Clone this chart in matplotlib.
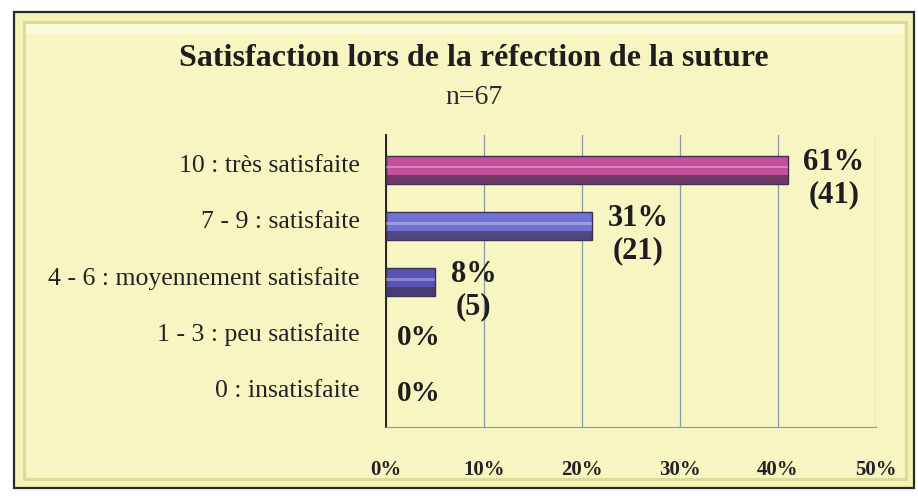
import matplotlib
matplotlib.use("Agg")
import matplotlib.pyplot as plt
from matplotlib.patches import Rectangle

categories = ["10 : très satisfaite", "7 - 9 : satisfaite", "4 - 6 : moyennement satisfaite",
              "1 - 3 : peu satisfaite", "0 : insatisfaite"]
counts = [41, 21, 5, 0, 0]
percents = [61, 31, 8, 0, 0]
xticks = [0, 10, 20, 30, 40, 50]
xtick_labels = ["0%", "10%", "20%", "30%", "40%", "50%"]
bar_colors = ["#c4509c", "#7272d4", "#5a52b4", "#5a52b4", "#5a52b4"]

plt.rcParams['font.family'] = ['Liberation Serif', 'DejaVu Serif']

W, H = 918, 504
fig = plt.figure(figsize=(W/100, H/100), dpi=100)
fig.patch.set_facecolor("white")

def fx(px):
    return px / W

def fy(py):
    return 1 - py / H

# outer frame
frame = Rectangle((fx(14), fy(488)), fx(914) - fx(14), fy(12) - fy(488),
                  transform=fig.transFigure, facecolor="#f5f2b8", edgecolor="#2a2a2a",
                  linewidth=1.6, zorder=-3)
fig.patches.append(frame)
bevel = Rectangle((fx(24), fy(479)), fx(906) - fx(24), fy(22) - fy(479),
                  transform=fig.transFigure, facecolor="#f7f5c2", edgecolor="#dcdc98",
                  linewidth=2.2, zorder=-2)
fig.patches.append(bevel)
highlight = Rectangle((fx(26), fy(34)), fx(904) - fx(26), fy(24) - fy(34),
                      transform=fig.transFigure, facecolor="#faf9dc", edgecolor="none",
                      zorder=-1)
fig.patches.append(highlight)

ax = fig.add_axes([fx(386), fy(427), fx(876) - fx(386), fy(135) - fy(427)])
ax.set_zorder(2)
ax.set_facecolor("none")

n = len(categories)
ypos = list(range(n - 1, -1, -1))
bar_h = 0.5
shift = 0.12
for y, c, col in zip(ypos, counts, bar_colors):
    if c > 0:
        yc = y - shift
        ax.barh(yc, c, height=bar_h, color=col, edgecolor="#3a3050", linewidth=1.0, zorder=3)
        # darker lower face for a 3D look
        ax.barh(yc - bar_h*0.34, c, height=bar_h*0.32, color="#3a2c48", alpha=0.6,
                linewidth=0, zorder=4)
        # light stripe
        ax.barh(yc + bar_h*0.1, c, height=bar_h*0.1, color="white", alpha=0.3,
                linewidth=0, zorder=4)

for y, c, p in zip(ypos, counts, percents):
    if c > 0:
        ax.text(c + 1.6, y - 0.27, f"{p}%\n({c})", ha="left", va="center",
                multialignment="center", fontsize=22, fontweight="bold",
                color="#1e1e1e", linespacing=1.15, zorder=5)
    else:
        ax.text(c + 1.1, y - 0.1, f"{p}%", ha="left", va="center",
                fontsize=21, fontweight="bold", color="#1e1e1e", zorder=5)

ax.set_xlim(0, 50)
ax.set_ylim(-0.69, n - 0.5)
ax.set_xticks(xticks)
ax.set_xticklabels(xtick_labels, fontsize=15, fontweight="bold", color="#222222")
ax.set_yticks(ypos)
ax.set_yticklabels(categories, fontsize=18.5, color="#222222")
ax.tick_params(axis="both", length=0)
ax.tick_params(axis="x", pad=24)
ax.tick_params(axis="y", pad=19)
ax.grid(axis="x", color="#8a9aa4", linewidth=0.9, zorder=1)
for s in ["top", "right"]:
    ax.spines[s].set_visible(False)
ax.spines["bottom"].set_color("#8a9aa4")
ax.spines["left"].set_color("#222222")
ax.spines["left"].set_linewidth(1.4)

fig.text(fx(474), fy(59), "Satisfaction lors de la réfection de la suture",
         ha="center", va="center", fontsize=23, fontweight="bold", color="#1e1e1e")
fig.text(fx(474), fy(97), "n=67", ha="center", va="center", fontsize=20,
         color="#2a2a2a")

fig.savefig("out.png", dpi=100, facecolor=fig.get_facecolor())
